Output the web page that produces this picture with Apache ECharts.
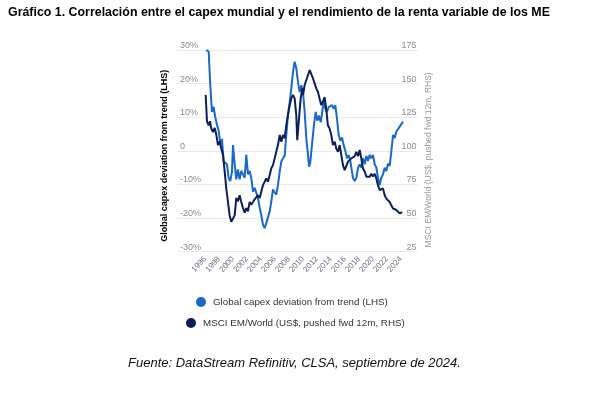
<!DOCTYPE html>
<html><head><meta charset="utf-8">
<script src="https://cdn.jsdelivr.net/npm/echarts@6/dist/echarts.min.js"></script>
<style>html,body{margin:0;padding:0;background:#fff}#c{width:596px;height:393px}</style>
</head><body><div id="c"></div>
<script>
const chartTitle = "Gráfico 1. Correlación entre el capex mundial y el rendimiento de la renta variable de los ME";
const sourceNote = "Fuente: DataStream Refinitiv, CLSA, septiembre de 2024.";
const capexName = "Global capex deviation from trend (LHS)";
const msciName = "MSCI EM/World (US$, pushed fwd 12m, RHS)";
const yearTicks = [1996,1998,2000,2002,2004,2006,2008,2010,2012,2014,2016,2018,2020,2022,2024];

const capexYears = [
1996.19,1996.53,1996.76,
1997.00,1997.24,1997.47,1997.72,1997.96,
1998.19,1998.43,1998.68,1998.90,
1999.15,1999.39,1999.62,1999.86,
2000.01,2000.25,2000.48,2000.72,2000.96,
2001.19,2001.44,2001.68,2001.91,
2002.15,2002.39,2002.62,2002.87,
2003.11,2003.34,2003.58,2003.83,
2004.05,2004.30,2004.54,2004.77,
2005.01,2005.26,2005.49,2005.73,2005.97,
2006.20,2006.44,2006.69,2006.92,
2007.16,2007.40,2007.63,2007.87,
2008.12,2008.35,2008.59,2008.83,
2009.06,2009.30,2009.55,2009.78,
2010.02,2010.26,2010.49,2010.74,2010.88,
2011.06,2011.35,2011.59,2011.84,
2012.07,2012.31,2012.55,2012.78,2012.98,
2013.21,2013.45,2013.70,2013.93,
2014.17,2014.41,2014.64,2014.88,
2015.13,2015.36,2015.60,2015.84,
2016.07,2016.31,2016.56,2016.79,
2017.03,2017.17,2017.42,2017.65,2017.89,
2018.13,2018.36,2018.60,2018.85,
2019.08,2019.32,2019.56,2019.79,
2020.03,2020.28,2020.51,2020.75,2020.99,
2021.22,2021.46,2021.71,2021.94,
2022.18,2022.42,2022.65,2022.90,
2023.14,2023.37,2023.61,2023.85,
2024.08,2024.33];
const capexValues = [
30,29.5,19.6,
11.6,13.1,10.1,7.7,6,
2.3,3.5,-3.2,-3.5,
-4,-8.1,-9,-6.2,
1.7,-4,-8.5,-5.5,-8.5,
-6,-7,-8,-1.2,
-7,-6,-8,-12.2,
-11,-11.2,-14,-17,
-19,-22,-23,-21.5,
-22,-18,-15,-11.5,-12.3,
-13,-10.2,-6.2,-3.2,
-2.2,-1.5,4.7,10.7,
14.6,18.6,23.5,26.5,
24.6,20.6,17.5,19.5,
17.6,11.6,3.8,-1.2,-4.7,
-3.5,2.7,7.7,11.6,
9,10.5,8.5,11.6,15.1,
12.5,11.6,13,12.5,
13.6,12.5,13.6,9.7,
4.7,3,4,1.7,
0,-2.2,-1.2,-3,
-6.2,-8.1,-9,-8.1,-5.1,
-4,-5,-2.2,-4,
-1.5,-3,-1.2,-2.2,
-1.2,-4,-5,-8,-10.2,
-8,-7,-5,-6,
-3.8,-4.5,-0.3,4.7,
3.8,5.7,5.2,7.2,
6.8,8.7];

const msciYears = [
1996.10,1996.29,1996.53,1996.72,1996.90,
1997.14,1997.39,1997.62,1997.86,
1998.10,1998.33,1998.58,1998.82,
1999.05,1999.29,1999.53,1999.76,
2000.01,2000.25,2000.48,2000.72,2000.96,
2001.19,2001.44,2001.68,2001.91,
2002.15,2002.39,2002.62,2002.87,
2003.11,2003.34,2003.58,2003.83,
2004.05,2004.30,2004.54,2004.77,
2005.01,2005.26,2005.49,2005.73,2005.97,
2006.20,2006.44,2006.69,2006.92,
2007.16,2007.40,2007.63,2007.87,
2008.12,2008.35,2008.59,2008.83,
2009.06,2009.20,2009.45,2009.69,2009.92,
2010.02,2010.26,2010.49,2010.74,2010.98,
2011.21,2011.44,2011.68,2011.92,
2012.16,2012.39,2012.63,2012.87,
2013.11,2013.34,2013.58,2013.83,
2014.07,2014.31,2014.56,2014.78,
2015.03,2015.27,2015.50,2015.74,2015.99,
2016.21,2016.46,2016.70,2016.93,
2017.17,2017.42,2017.65,2017.89,
2018.13,2018.36,2018.60,2018.85,
2019.08,2019.32,2019.56,2019.79,
2020.03,2020.28,2020.51,2020.75,2020.99,
2021.22,2021.46,2021.71,2021.94,
2022.18,2022.42,2022.65,2022.90,
2023.14,2023.37,2023.61,2023.85,
2024.08,2024.22];
const msciValues = [
141.5,121.7,119,122,116.7,
114,117,112,104.3,
107,101.8,97,84.5,
72,62,52,47.3,
46.5,52,65,62.5,67,
62,57.5,54,57.5,
55,62,60,62,
64,63,67,65,
69.6,74.5,77,79.5,
77,82,87,89.4,94.4,
99.3,104.3,111.8,106.8,
111.8,109.3,119,126.6,
134,139,141.5,139,
126.6,108,124,139,146.5,
141.5,149,149.5,156.4,160,
159,154,154,146.5,
144,139,134,136.5,
140,131.6,119,116.7,
111.8,104.3,106.8,101.8,
99.3,104.3,97,89.4,85.7,
87,92,91,94.4,
94.4,96,99.3,96,
100.6,94.4,87,84.5,
80.8,82,80.8,83,
81,83,79.5,74.5,70.8,
69.6,72,67,64.5,
65.5,62,59.5,57.2,
58,56,54.7,53.5,
53.5,54.5];

const capexData = capexYears.map((y, i) => [y, capexValues[i]]);
const msciData = msciYears.map((y, i) => [y, msciValues[i]]);

const chart = echarts.init(document.getElementById('c'), null, {renderer: 'canvas'});
const FONT = 'Liberation Sans, Arial, sans-serif';
chart.setOption({
  animation: false,
  backgroundColor: '#ffffff',
  textStyle: {fontFamily: FONT},
  title: [
    {text: chartTitle, left: 8, top: 7, padding: 0,
     textStyle: {fontSize: 12.4, fontWeight: 'bold', color: '#000', fontFamily: FONT}},
    {text: sourceNote, left: 128, top: 357, padding: 0,
     textStyle: {fontSize: 13, fontWeight: 'normal', fontStyle: 'italic', color: '#111', fontFamily: FONT}}
  ],
  legend: [
    {data: [capexName], left: 196, top: 297, padding: 0, icon: 'circle', itemWidth: 10, itemHeight: 10,
     textStyle: {fontSize: 9.8, color: '#333', padding: [0, 0, 0, 2]}},
    {data: [msciName], left: 186, top: 318, padding: 0, icon: 'circle', itemWidth: 10, itemHeight: 10,
     textStyle: {fontSize: 9.8, color: '#333', padding: [0, 0, 0, 2]}}
  ],
  grid: {left: 177, right: 178.5, top: 50, bottom: 141.3, containLabel: false},
  xAxis: {
    type: 'value', min: 1992, max: 2026.4, interval: 2,
    axisLine: {show: false}, axisTick: {show: false}, splitLine: {show: false},
    axisLabel: {
      rotate: 48, margin: 6, fontSize: 8, color: '#707080',
      formatter: v => yearTicks.includes(v) ? String(v) : ''
    }
  },
  yAxis: [
    {
      type: 'value', position: 'left', min: -30, max: 30, interval: 10,
      axisLine: {show: false}, axisTick: {show: false},
      splitLine: {show: true, lineStyle: {color: '#e8e8e8', width: 1}},
      axisLabel: {inside: true, align: 'left', verticalAlign: 'bottom', margin: 3,
                  fontSize: 9, color: '#8a8a8a',
                  formatter: v => v === 0 ? '0' : v + '%'},
      name: capexName, nameLocation: 'middle', nameGap: 8, nameRotate: 90,
      nameTextStyle: {fontSize: 9, fontWeight: 'bold', color: '#000', padding: [0, 10, 0, 0]}
    },
    {
      type: 'value', position: 'right', min: 25, max: 175, interval: 25,
      axisLine: {show: false}, axisTick: {show: false}, splitLine: {show: false},
      axisLabel: {inside: true, align: 'right', verticalAlign: 'bottom', margin: 1,
                  fontSize: 9, color: '#8a8a8a'},
      name: msciName, nameLocation: 'middle', nameGap: 7, nameRotate: 90,
      nameTextStyle: {fontSize: 8.5, color: '#999', padding: [0, 18, 0, 0]}
    }
  ],
  series: [
    {name: capexName, type: 'line', yAxisIndex: 0, data: capexData, symbol: 'none',
     lineStyle: {width: 2, color: '#1a68c8'}, itemStyle: {color: '#1a68c8'}},
    {name: msciName, type: 'line', yAxisIndex: 1, data: msciData, symbol: 'none',
     lineStyle: {width: 2, color: '#0c1f5c'}, itemStyle: {color: '#0c1f5c'}}
  ]
});
</script>
</body></html>
